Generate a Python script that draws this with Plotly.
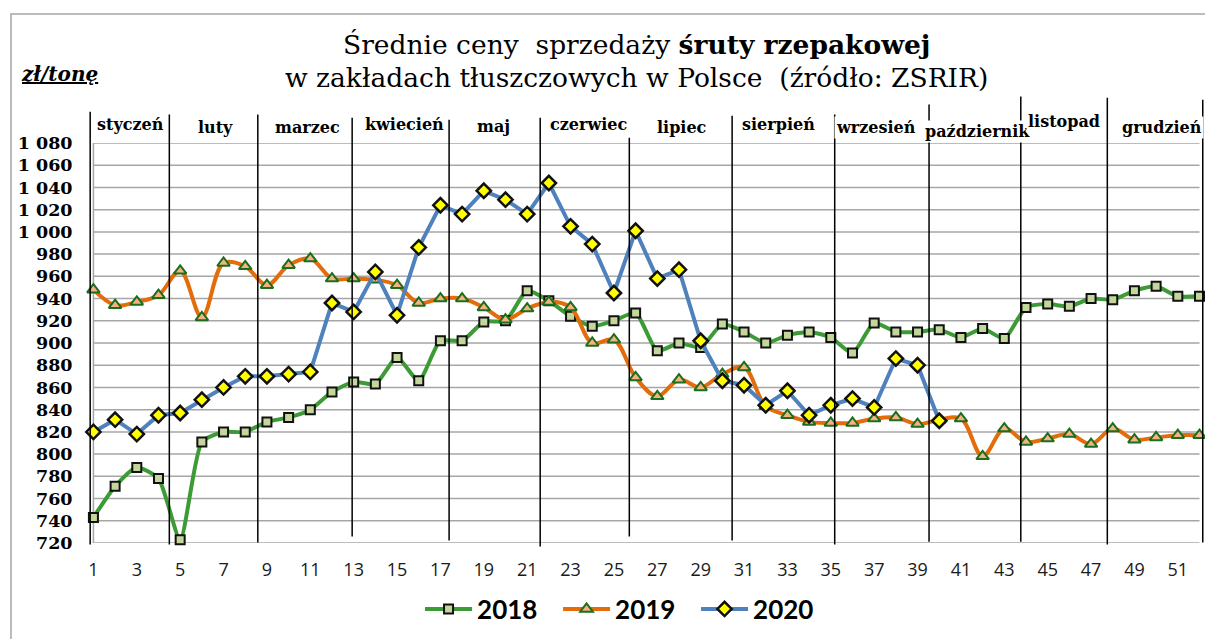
import plotly.graph_objects as go

# ---------------- data ----------------
weeks = list(range(1, 53))
weeks_2020 = list(range(1, 41))

price_2018 = [743, 771, 788, 778, 723, 811, 820, 820, 829, 833,
              840, 856, 865, 863, 887, 866, 902, 902, 919, 920,
              947, 938, 924, 915, 920, 927, 893, 900, 896, 917,
              910, 900, 907, 910, 905, 891, 918, 910, 910, 912,
              905, 913, 904, 932, 935, 933, 940, 939, 947, 951,
              942, 942]

price_2019 = [948, 934, 937, 943, 965, 923, 972, 969, 952, 970,
              976, 958, 958, 957, 952, 936, 940, 940, 932, 921,
              931, 937, 932, 900, 903, 869, 852, 867, 860, 872,
              878, 843, 835, 829, 828, 828, 832, 833, 827, 831,
              832, 798, 823, 811, 814, 818, 809, 823, 813, 815,
              817, 817]

price_2020 = [820, 831, 818, 835, 837, 849, 860, 870, 870, 872,
              874, 936, 928, 964, 925, 986, 1024, 1016, 1037, 1029,
              1016, 1044, 1005, 989, 945, 1001, 958, 966, 902, 866,
              862, 844, 857, 835, 844, 850, 842, 886, 880, 830]

series_names = ["2018", "2019", "2020"]

months = ["styczeń", "luty", "marzec", "kwiecień", "maj", "czerwiec",
          "lipiec", "sierpień", "wrzesień", "październik", "listopad", "grudzień"]

y_ticks = list(range(720, 1081, 20))
y_tick_labels = ["720", "740", "760", "780", "800", "820", "840", "860", "880",
                 "900", "920", "940", "960", "980", "1 000", "1 020", "1 040",
                 "1 060", "1 080"]
x_ticks = list(range(1, 52, 2))

# ---------------- layout helpers (positions) ----------------
month_label_x = [2.72, 6.65, 10.88, 15.33, 19.45, 23.81, 28.14, 32.61, 37.08, 41.76, 45.75, 50.27]
month_label_y = [1.046, 1.038, 1.038, 1.046, 1.042, 1.046, 1.038, 1.046, 1.038, 1.029, 1.053, 1.038]
month_bounds = [0.85, 4.5, 8.58, 12.93, 17.4, 21.6, 25.71, 30.45, 35.18, 39.53, 43.76, 47.75, 52.15]
month_bound_top = [1.078, 1.071, 1.071, 1.063, 1.058, 1.063, 1.013, 1.068, 1.071, 1.096, 1.116, 1.113, 1.108]
month_bound_bottom = [-0.004, -0.004, 0.001, 0.016, 0.006, -0.009, 0.016, 0.006, -0.004, 0.003, 0.003, -0.004, 0.001]

fig = go.Figure()

fig.add_trace(go.Scatter(
    x=weeks, y=price_2018, name=series_names[0], mode="lines+markers",
    line=dict(color="#3d9b35", width=4, shape="spline", smoothing=0.6),
    marker=dict(symbol="square", size=9, color="#c4d79b", line=dict(color="#111111", width=2)),
    cliponaxis=False,
))
fig.add_trace(go.Scatter(
    x=weeks, y=price_2019, name=series_names[1], mode="lines+markers",
    line=dict(color="#e46c0a", width=4, shape="spline", smoothing=1.0),
    marker=dict(symbol="triangle-up", size=11, color="#f4b183", line=dict(color="#1b6e1b", width=2)),
    cliponaxis=False,
))
fig.add_trace(go.Scatter(
    x=weeks_2020, y=price_2020, name=series_names[2], mode="lines+markers",
    line=dict(color="#4f81bd", width=4),
    marker=dict(symbol="diamond", size=11, color="#ffff00", line=dict(color="#111111", width=2.5)),
    cliponaxis=False,
))

shapes = []
# horizontal gridlines
for v in y_ticks:
    shapes.append(dict(type="line", xref="x", yref="y", x0=weeks[0], x1=weeks[-1], y0=v, y1=v,
                       line=dict(color="#a6a6a6", width=1.5), layer="below"))
# vertical value axis line
shapes.append(dict(type="line", xref="x", yref="y", x0=weeks[0], x1=weeks[0], y0=y_ticks[0], y1=y_ticks[-1],
                   line=dict(color="#a6a6a6", width=1.5), layer="below"))
# month separators
for xb, yt, yb in zip(month_bounds, month_bound_top, month_bound_bottom):
    shapes.append(dict(type="line", xref="x", yref="paper", x0=xb, x1=xb, y0=yb, y1=yt,
                       line=dict(color="#000000", width=1.5), layer="above"))
# outer frame
shapes.append(dict(type="rect", xref="paper", yref="paper", x0=-0.0689, x1=1.03, y0=-0.3, y1=1.3225,
                   line=dict(color="#a6a6a6", width=1.5), fillcolor="rgba(0,0,0,0)", layer="below"))

annotations = []
for name, xm, ym in zip(months, month_label_x, month_label_y):
    annotations.append(dict(text="<b>%s</b>" % name, x=xm, y=ym, xref="x", yref="paper",
                            showarrow=False, bgcolor="white", borderpad=1,
                            font=dict(family="DejaVu Serif", size=16, color="black"),
                            xanchor="center", yanchor="middle"))

annotations.append(dict(text="Średnie ceny\u00a0\u00a0sprzedaży <b>śruty rzepakowej</b>",
                        x=0.491, y=1.245, xref="paper", yref="paper", showarrow=False,
                        font=dict(family="DejaVu Serif", size=26.5, color="black"),
                        xanchor="center", yanchor="middle"))
annotations.append(dict(text="w zakładach tłuszczowych w Polsce\u00a0\u00a0(źródło: ZSRIR)",
                        x=0.491, y=1.163, xref="paper", yref="paper", showarrow=False,
                        font=dict(family="DejaVu Serif", size=26.5, color="black"),
                        xanchor="center", yanchor="middle"))
annotations.append(dict(text="<b><i><u>zł/tonę</u></i></b>",
                        x=-0.062, y=1.172, xref="paper", yref="paper", showarrow=False,
                        font=dict(family="DejaVu Serif", size=20, color="black"),
                        xanchor="left", yanchor="middle"))

# The page body has an 8px default margin, so the figure is sized/offset to compensate.
fig.update_layout(
    width=1205, height=631,
    margin=dict(l=80, r=7, t=135, b=96),
    paper_bgcolor="white", plot_bgcolor="white",
    font=dict(family="DejaVu Serif", color="black"),
    showlegend=True,
    legend=dict(orientation="h", x=0.297, y=-0.165, xanchor="left", yanchor="middle",
                font=dict(family="Lato", size=26, color="black", weight="bold"),
                itemwidth=47, entrywidth=76, entrywidthmode="pixels",
                bgcolor="rgba(0,0,0,0)"),
    xaxis=dict(range=[0.75, 52.3], tickvals=x_ticks, ticktext=[str(t) for t in x_ticks],
               showgrid=False, zeroline=False, showline=False,
               ticks="outside", ticklen=10, tickcolor="rgba(0,0,0,0)",
               tickfont=dict(family="Open Sans", size=18, color="#1a1a1a")),
    yaxis=dict(range=[720, 1080], tickvals=y_ticks, ticktext=y_tick_labels,
               showgrid=False, zeroline=False, showline=False,
               ticks="outside", ticklen=11, tickcolor="rgba(0,0,0,0)",
               tickfont=dict(family="DejaVu Serif", size=17.5, color="black", weight="bold")),
    shapes=shapes, annotations=annotations,
)

fig.write_html("out.html")
